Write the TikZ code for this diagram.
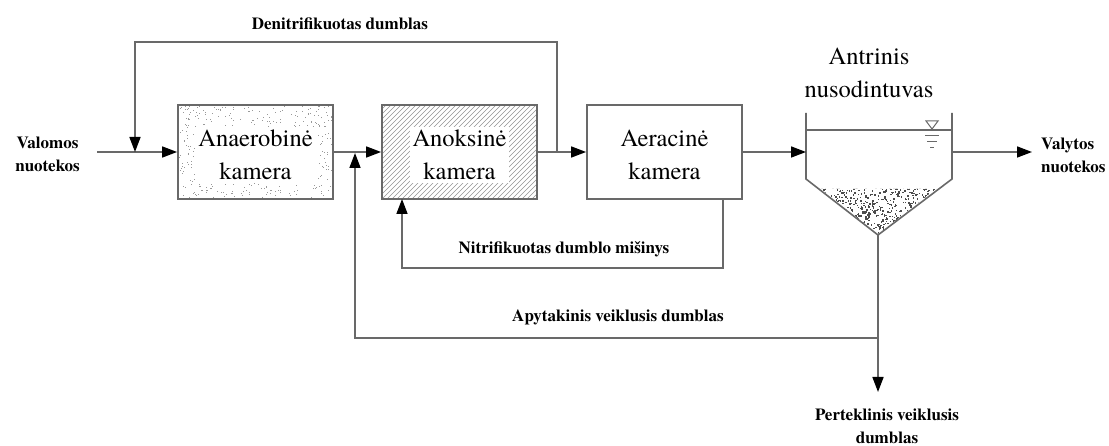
\documentclass[tikz,border=0pt]{standalone}
\usepackage{fontspec}
\setmainfont{texgyretermes}[Extension=.otf, UprightFont=*-regular, BoldFont=*-bold, ItalicFont=*-italic, BoldItalicFont=*-bolditalic]
\usetikzlibrary{arrows.meta}
\definecolor{ln}{RGB}{105,105,105}
\tikzset{
  pipe/.style={draw=ln, line width=1.6pt},
  flow/.style={pipe, -{Triangle[length=15pt,width=11pt,color=black,fill=black]}},
  chamber/.style={draw=ln, line width=1.8pt, minimum width=155pt, minimum height=94pt, inner sep=0pt},
  boxtext/.style={font=\fontsize{24.5}{33}\selectfont, align=center, fill=white, inner sep=3pt},
  lbl/.style={font=\fontsize{17}{23}\selectfont\bfseries, align=center, inner sep=0pt}
}
\begin{document}
\begin{tikzpicture}[x=1pt,y=-1pt]
\useasboundingbox (0,0) rectangle (1109,446);
\fill[white] (0,0) rectangle (1109,446);

% speckle texture of the anaerobic chamber
\pgfmathsetseed{4242}
\begin{scope}
  \clip (178,105) rectangle (333,199);
  \foreach \i in {1,...,550}{
    \pgfmathsetmacro\rx{178+155*rnd}
    \pgfmathsetmacro\ry{105+94*rnd}
    \fill[gray!80] (\rx,\ry) rectangle ++(1,1);
  }
\end{scope}

% hatching of the anoxic chamber
\begin{scope}
  \clip (382,105) rectangle (537,199);
  \foreach \k in {-100,-95,...,160}{
    \draw[gray!85, line width=0.55pt] (382+\k,199) -- ++(94,-94);
  }
\end{scope}

% sludge in the clarifier cone
\begin{scope}
  \clip (821,189) -- (936,189) -- (878,234) -- cycle;
  \foreach \i in {1,...,700}{
    \pgfmathsetmacro\rx{819+119*rnd}
    \pgfmathsetmacro\ry{187+48*rnd}
    \fill[black!70] (\rx,\ry) rectangle ++(1.5,1.5);
  }
\end{scope}

% chambers
\node[chamber] (anaer) at (255.5,152) {};
\node[chamber] (anok) at (459.5,152) {};
\node[chamber] (aer) at (664.5,152) {};
\node[boxtext] (anaert) at ([yshift=-3pt]anaer.center) {Anaerobinė\\kamera};
\node[boxtext] (anokt) at ([yshift=-3pt]anok.center) {Anoksinė\\kamera};
\node[boxtext] (aert) at ([yshift=-3pt]aer.center) {Aeracinė\\kamera};

% clarifier
\coordinate (clin) at (806,152);
\coordinate (clout) at (952,152);
\coordinate (apex) at (878,235);
\draw[pipe, line join=miter] (806,113) -- (806,179) -- (apex) -- (952,179) -- (952,113);
\draw[draw=ln, line width=1.4pt] (806,130) -- (952,130);
\draw[draw=ln, line width=1pt] (926,121) -- (938,121) -- (932,129) -- cycle;
\draw[draw=ln, line width=1pt] (925,136) -- (939,136);
\draw[draw=ln, line width=1pt] (927,142) -- (937,142);
\draw[draw=ln, line width=1pt] (930,148) -- (934,148);

% coordinates for connectors
\coordinate (in) at (97,152);
\coordinate (j1) at (557,152);
\coordinate (j2) at (135,152);
\coordinate (n1) at (723,199);
\coordinate (n2) at (402,199);
\coordinate (split) at (878,338);
\coordinate (ret) at (355,153);
\coordinate (wout) at (878,392);
\coordinate (vout) at (1032,152);

% main flow
\draw[flow] (in) -- (anaer.west);
\draw[flow] (anaer.east) -- (anok.west);
\draw[flow] (anok.east) -- (aer.west);
\draw[flow] (aer.east) -- (clin);
\draw[flow] (clout) -- (vout);

% recycles
\draw[flow] (j1) -- ++(0,-110) -| (j2);
\draw[flow] (n1) -- ++(0,69) -| (n2);
\draw[pipe] (apex) -- (split);
\draw[flow] (split) -| (ret);
\draw[flow] (split) -- (wout);

% labels
\node[lbl] (val) at (47.5,154) {Valomos\\nuotekos};
\node[lbl] (den) at (340,24) {Denitrifikuotas dumblas};
\node[lbl] (nit) at (564,249) {Nitrifikuotas dumblo mišinys};
\node[lbl] (apy) at (618,317) {Apytakinis veiklusis dumblas};
\node[lbl] (per) at (887,426.5) {Perteklinis veiklusis\\dumblas};
\node[lbl, align=left, anchor=west] (valy) at (1041,155) {Valytos\\nuotekos};
\node[font=\fontsize{24.5}{33}\selectfont, align=center, inner sep=0pt] (antr) at (869,72.5) {Antrinis\\nusodintuvas};
\end{tikzpicture}
\end{document}
